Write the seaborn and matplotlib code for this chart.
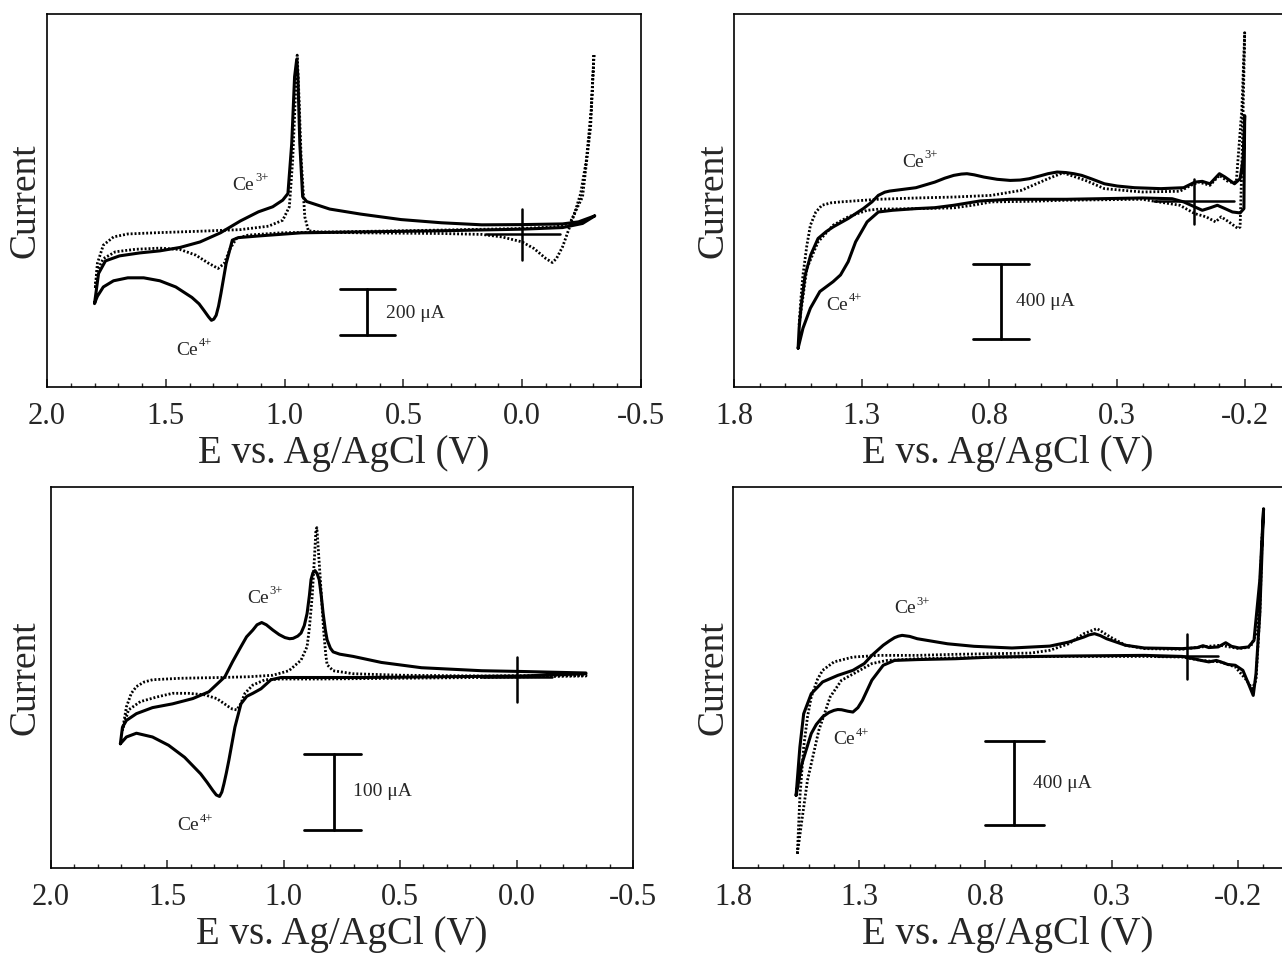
import matplotlib
matplotlib.use("Agg")
import matplotlib.pyplot as plt
import seaborn as sns
import pandas as pd
from matplotlib.ticker import FixedLocator, MultipleLocator

# ---------------- data (E in V vs Ag/AgCl, I in uA) ----------------
# Panel 1 (top-left)
p1_solid_E = [-0.305, -0.237, -0.17, 0.0, 0.17, 0.34, 0.51, 0.68, 0.81, 0.907, 0.924, 0.936, 0.944, 0.949,
              0.958, 0.97, 0.986, 1.008, 1.05, 1.11, 1.186, 1.27, 1.356, 1.44, 1.525, 1.61, 1.695, 1.754, 1.783,
              1.80, 1.795, 1.788, 1.763, 1.72, 1.66, 1.593, 1.525, 1.458, 1.39, 1.36, 1.34, 1.32, 1.308, 1.298,
              1.288, 1.278, 1.268, 1.246, 1.22, 1.195, 1.10, 0.93, 0.68, 0.34, 0.0, -0.17, -0.254, -0.305]
p1_solid_I = [80, 54, 45, 42, 41, 50, 64, 88, 110, 143, 164, 397, 689, 765,
              689, 397, 178, 149, 120, 98, 58, 6, -34, -58, -73, -82, -95, -117, -172,
              -304, -290, -272, -231, -204, -191, -191, -204, -231, -277, -305, -333, -362, -377, -372,
              -355, -315, -260, -128, -26, -15, -7, 6, 10, 15, 22, 29, 47, 80]
p1_dot_E = [-0.302, -0.29, -0.27, -0.246, -0.22, -0.195, -0.17, -0.144, -0.127, -0.10, -0.05, 0.0, 0.085, 0.17,
            0.34, 0.68, 0.85, 0.90, 0.915, 0.93, 0.94, 0.947, 0.954, 0.966, 0.98, 1.008, 1.068, 1.186, 1.356,
            1.525, 1.66, 1.72, 1.763, 1.788, 1.797, 1.788, 1.763, 1.712, 1.627, 1.525, 1.44, 1.373, 1.322, 1.28,
            1.254, 1.229, 1.203, 1.153, 1.017, 0.68, 0.34, 0.0, -0.136, -0.20, -0.254, -0.288, -0.302]
p1_dot_I = [784, 543, 324, 178, 90, 18, -55, -107, -124, -107, -63, -34, -12, -1,
            3, 6, 9, 15, 76, 324, 616, 784, 616, 324, 120, 61, 35, 20, 13,
            7, 1, -12, -48, -128, -238, -158, -107, -77, -66, -61, -67, -92, -126, -150,
            -128, -63, -19, -4, 6, 12, 18, 25, 32, 47, 164, 470, 784]

# Panel 2 (top-right)
p2_solid_E = [1.549, 1.545, 1.537, 1.522, 1.50, 1.471, 1.44, 1.412, 1.353, 1.294, 1.26, 1.235, 1.21, 1.191,
              1.088, 1.014, 0.975,
              0.940, 0.91, 0.888, 0.86, 0.822, 0.77, 0.719, 0.68, 0.645, 0.60, 0.571, 0.535, 0.50, 0.47, 0.439,
              0.40, 0.350, 0.30, 0.232, 0.129, 0.040, -0.004, -0.033,
              -0.063, -0.100, -0.122, -0.159, -0.181, -0.193, -0.199,
              -0.197, -0.196, -0.181, -0.151, -0.122, -0.092, -0.063, -0.033, -0.004, 0.040, 0.085, 0.203,
              0.498, 0.719, 0.837, 0.940, 1.014, 1.088, 1.18, 1.235, 1.279, 1.324, 1.353, 1.383, 1.412, 1.464,
              1.501, 1.530, 1.549]
p2_solid_I = [-788, -680, -560, -400, -290, -201, -165, -139, -94, -41, -5, 30, 47, 53,
              71, 101, 122,
              137, 144, 146, 140, 128, 116, 110, 112, 119, 135, 146, 155, 152, 146, 137,
              118, 92, 80, 71, 66, 71, 101, 105,
              92, 146, 128, 92, 119, 226, 457,
              150, -41, -64, -59, -41, -23, -37, -50, -32, -5, 12, 16,
              9, 9, 0, -23, -36, -41, -50, -59, -112, -219, -325, -396, -432, -485,
              -574, -681, -788]
p2_dot_E = [1.545, 1.538, 1.530, 1.515, 1.501, 1.48, 1.456, 1.42, 1.383, 1.235, 1.088, 0.940, 0.793, 0.675,
            0.571, 0.512, 0.424, 0.350,
            0.203, 0.055, 0.011, -0.019, -0.063, -0.100, -0.137, -0.166, -0.188, -0.199,
            -0.190, -0.181, -0.173, -0.137, -0.107, -0.085, -0.048, -0.004, 0.055, 0.203, 0.498, 0.645, 0.793,
            0.866, 0.940, 1.088, 1.235, 1.279, 1.353, 1.412, 1.471, 1.515, 1.545]
p2_dot_I = [-663, -520, -396, -240, -130, -60, -23, -10, -5, 9, 16, 21, 30, 57,
            119, 151, 110, 66,
            48, 52, 84, 101, 84, 137, 101, 101, 493, 901,
            300, -139, -148, -112, -85, -112, -85, -68, -23, 9, 4, -2, -5,
            -23, -37, -41, -44, -50, -85, -130, -219, -361, -663]

# Panel 3 (bottom-left)
p3_solid_E = [1.702, 1.693, 1.676, 1.633, 1.564, 1.478, 1.391, 1.322, 1.253, 1.22, 1.184, 1.16, 1.133, 1.115,
              1.095, 1.075, 1.047, 1.02, 0.995, 0.975, 0.960, 0.94, 0.926, 0.912, 0.900, 0.89, 0.883, 0.875,
              0.866, 0.857, 0.848, 0.840, 0.831, 0.822, 0.814, 0.800, 0.788, 0.76, 0.702, 0.581, 0.409, 0.150,
              -0.022, -0.298,
              -0.298, -0.022, 0.322, 0.667, 1.012, 1.055, 1.098, 1.133, 1.159, 1.184, 1.210, 1.236, 1.247,
              1.257, 1.266, 1.276, 1.290, 1.305, 1.33, 1.357, 1.426, 1.495, 1.564, 1.633, 1.676, 1.702]
p3_solid_I = [-89, -67, -58, -49, -41, -36, -29, -20, 0, 20, 40, 53, 62, 69,
              72, 69, 62, 56, 52, 50.5, 51, 54, 58, 68, 84, 108, 129, 138,
              141, 137, 129, 110, 84, 63, 49, 38, 33, 30, 27, 19, 12, 8,
              7, 5,
              4, 1, 0, -1, -1, -4, -16, -22, -26, -36, -67, -111, -128,
              -142, -153, -159, -157, -151, -140, -129, -107, -91, -80, -75, -80, -89]
p3_dot_E = [1.693, 1.676, 1.655, 1.633, 1.6, 1.564, 1.443, 1.271, 1.150, 1.047, 0.978, 0.926, 0.900, 0.89,
            0.878, 0.868,
            0.862, 0.858, 0.852, 0.843, 0.836, 0.829, 0.82, 0.814, 0.788, 0.702, 0.495, 0.150, -0.298,
            -0.298, 0.150, 0.495, 0.840, 1.012, 1.081, 1.133, 1.167, 1.185, 1.202, 1.22, 1.236, 1.288, 1.340,
            1.409, 1.478, 1.547, 1.616, 1.667, 1.693]
p3_dot_I = [-71, -40, -22, -13, -7, -4, -2, -1, 0, 2, 8, 22, 40, 65,
            107, 160,
            195, 198, 170, 129, 95, 62, 30, 16, 8, 4, 2, 1, 2,
            1, -1, -2, -3, -3, -4, -11, -22, -36, -44, -43, -40, -29, -24,
            -22, -22, -27, -33, -44, -71]

# Panel 4 (bottom-right)
p4_solid_E = [1.550, 1.535, 1.520, 1.490, 1.445, 1.385, 1.325, 1.280, 1.250, 1.205, 1.18, 1.160, 1.145, 1.130,
              1.10, 1.070, 1.0, 0.950, 0.845, 0.695, 0.545, 0.470, 0.410, 0.39, 0.368, 0.345, 0.320, 0.245,
              0.170, 0.020, -0.040, -0.062, -0.085,
              -0.122, -0.152, -0.175, -0.205, -0.242, -0.264, -0.287, -0.302,
              -0.287, -0.272, -0.261, -0.242, -0.220, -0.190, -0.160, -0.145, -0.115, -0.085, -0.055, -0.025,
              0.020, 0.170, 0.470, 0.770, 0.920, 1.070, 1.160, 1.205, 1.250, 1.287, 1.305, 1.325, 1.345, 1.370,
              1.385, 1.400, 1.42, 1.445, 1.47, 1.490, 1.527, 1.550]
p4_solid_I = [-661, -432, -274, -179, -123, -92, -68, -36, 3, 51, 72, 87, 94, 98,
              93, 82, 68, 58, 46, 38, 47, 66, 90, 100, 106, 97, 82, 51,
              38, 35, 40, 49, 40,
              43, 63, 46, 38, 43, 74, 359, 699,
              201, -84, -187, -131, -68, -44, -40, -33, -21, -28, -21, -13,
              -2, 3, 0, -5, -13, -17, -21, -44, -115, -210, -245, -266, -262, -255,
              -254, -258, -268, -289, -325, -368, -511, -661]
p4_dot_E = [1.545, 1.535, 1.520, 1.505, 1.490, 1.465, 1.445, 1.400, 1.325, 1.220, 1.070, 0.920, 0.770, 0.620,
            0.545, 0.470,
            0.410, 0.358, 0.305, 0.245, 0.170, 0.020, -0.055, -0.130, -0.205, -0.250, -0.279, -0.297,
            -0.287, -0.272, -0.257, -0.235, -0.190, -0.130, -0.055, 0.020, 0.170, 0.470, 0.770, 1.070, 1.190,
            1.250, 1.310, 1.370, 1.415, 1.460, 1.505, 1.527, 1.545]
p4_dot_I = [-938, -669, -432, -290, -194, -110, -68, -28, -5, 3, 3, 8, 11, 14,
            27, 58,
            106, 130, 90, 51, 35, 32, 43, 51, 35, 43, 122, 580,
            201, -115, -155, -115, -52, -28, -21, -5, -2, -2, -5, -13, -21,
            -36, -76, -115, -194, -353, -590, -779, -938]

x_label = "E vs. Ag/AgCl (V)"
y_label = "Current"
ticks_left = [2.0, 1.5, 1.0, 0.5, 0.0, -0.5]
ticklabels_left = ["2.0", "1.5", "1.0", "0.5", "0.0", "-0.5"]
ticks_right = [1.8, 1.3, 0.8, 0.3, -0.2]
ticklabels_right = ["1.8", "1.3", "0.8", "0.3", "-0.2"]
scale_texts = ["200 \u03bcA", "400 \u03bcA", "100 \u03bcA", "400 \u03bcA"]
ce_base = "Ce"
ce3_sup = "3+"
ce4_sup = "4+"

# ---------------- styling ----------------
sns.set_style("white")
plt.rcParams["font.family"] = ["Liberation Serif", "DejaVu Serif"]

fig = plt.figure(figsize=(12.82, 9.61), dpi=100)
W, H = 1282.0, 961.0


def rect(x0, x1, y0, y1):
    return [x0 / W, 1 - y1 / H, (x1 - x0) / W, (y1 - y0) / H]


def ce_label(ax, x, y, sup):
    # "Ce" centred slightly left of the anchor, small superscript to its upper right
    ax.annotate(ce_base, (x, y), xytext=(-5, 0), textcoords="offset points",
                ha="center", va="center", fontsize=14)
    ax.annotate(sup, (x, y), xytext=(3.5, 5), textcoords="offset points",
                ha="left", va="center", fontsize=9)


panels = [
    dict(rect=rect(47, 641, 14, 387), xlim=(2.0, -0.5), ylim=(-669, 964),
         ticks=ticks_left, labels=ticklabels_left, solid=(p1_solid_E, p1_solid_I), dot=(p1_dot_E, p1_dot_I),
         cross=dict(v=(112, -111), h=(0.153, -0.16)),
         bar=dict(x=0.653, y=(-242, -442), cap=(0.766, 0.536), text=(0.573, -347)),
         ce3=(1.144, 215), ce4=(1.381, -508), right=True, lbl=25),
    dict(rect=rect(734, 1282, 14, 387), xlim=(1.8, -0.345), ylim=(-996, 1001),
         ticks=ticks_right, labels=ticklabels_right, solid=(p2_solid_E, p2_solid_I), dot=(p2_dot_E, p2_dot_I),
         cross=dict(v=(119, -124), h=(0.155, -0.156)),
         bar=dict(x=0.756, y=(-338, -738), cap=(0.866, 0.645), text=(0.697, -539)),
         ce3=(1.073, 208), ce4=(1.368, -557), right=False, lbl=713),
    dict(rect=rect(51, 633, 487, 868), xlim=(2.0, -0.5), ylim=(-254, 252),
         ticks=ticks_left, labels=ticklabels_left, solid=(p3_solid_E, p3_solid_I), dot=(p3_dot_E, p3_dot_I),
         cross=dict(v=(26, -33), h=(0.15, -0.15)),
         bar=dict(x=0.784, y=(-103, -203), cap=(0.912, 0.667), text=(0.702, -153)),
         ce3=(1.081, 104), ce4=(1.383, -198), right=True, lbl=25),
    dict(rect=rect(733, 1282, 487, 868), xlim=(1.8, -0.375), ylim=(-1006, 802),
         ticks=ticks_right, labels=ticklabels_right, solid=(p4_solid_E, p4_solid_I), dot=(p4_dot_E, p4_dot_I),
         cross=dict(v=(106, -108), h=(0.12, -0.12)),
         bar=dict(x=0.688, y=(-403, -803), cap=(0.800, 0.568), text=(0.613, -606)),
         ce3=(1.092, 225), ce4=(1.332, -397), right=False, lbl=713),
]

for k, p in enumerate(panels):
    ax = fig.add_axes(p["rect"])
    sE, sI = p["solid"]
    dE, dI = p["dot"]
    df_s = pd.DataFrame({"E": sE, "I": sI})
    df_d = pd.DataFrame({"E": dE, "I": dI})
    sns.lineplot(data=df_d, x="E", y="I", sort=False, estimator=None, ax=ax, color="black",
                 linewidth=2.0, linestyle=(0, (0.7, 0.7)))
    sns.lineplot(data=df_s, x="E", y="I", sort=False, estimator=None, ax=ax, color="black",
                 linewidth=2.2, solid_joinstyle="round", solid_capstyle="round")
    # start-point cross
    c = p["cross"]
    ax.plot([0, 0], list(c["v"]), color="black", lw=1.8)
    ax.plot(list(c["h"]), [0, 0], color="black", lw=1.8)
    # scale bar
    b = p["bar"]
    ax.plot([b["x"], b["x"]], list(b["y"]), color="black", lw=2.0)
    ax.plot(list(b["cap"]), [b["y"][0]] * 2, color="black", lw=2.0)
    ax.plot(list(b["cap"]), [b["y"][1]] * 2, color="black", lw=2.0)
    ax.text(b["text"][0], b["text"][1], scale_texts[k], ha="left", va="center", fontsize=14)
    ce_label(ax, p["ce3"][0], p["ce3"][1], ce3_sup)
    ce_label(ax, p["ce4"][0], p["ce4"][1], ce4_sup)

    ax.set_xlim(*p["xlim"])
    ax.set_ylim(*p["ylim"])
    ax.xaxis.set_major_locator(FixedLocator(p["ticks"]))
    ax.set_xticklabels(p["labels"])
    ax.xaxis.set_minor_locator(MultipleLocator(0.1))
    ax.set_yticks([])
    ax.tick_params(axis="x", which="major", direction="in", length=6, width=1.1, pad=11,
                   labelsize=22, bottom=True, top=False)
    ax.tick_params(axis="x", which="minor", direction="in", length=3, width=1.0, bottom=True, top=False)
    for s in ["left", "bottom", "top", "right"]:
        ax.spines[s].set_color("black")
        ax.spines[s].set_linewidth(1.2)
    ax.spines["right"].set_visible(p["right"])
    ax.set_xlabel(x_label, fontsize=28, labelpad=3)
    ax.set_ylabel(y_label, fontsize=27)
    x0 = p["rect"][0] * W
    wpx = p["rect"][2] * W
    ax.yaxis.set_label_coords((p["lbl"] - x0) / wpx, 0.5)
    ax.yaxis.label.set_verticalalignment("center")
    ax.set_facecolor("white")

fig.savefig("out.png", dpi=100, facecolor="white")
